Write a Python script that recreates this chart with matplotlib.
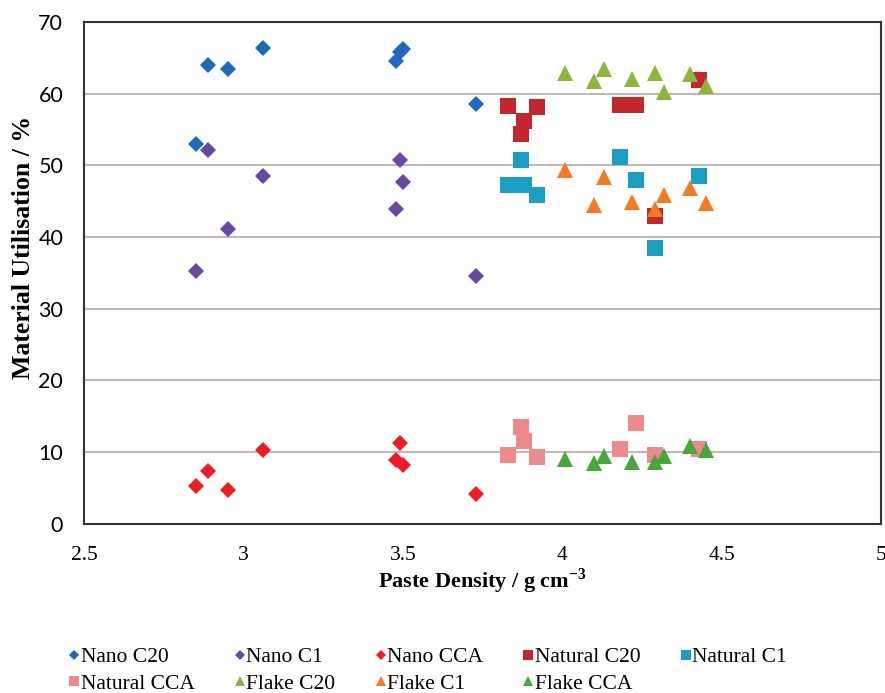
import matplotlib
matplotlib.use("Agg")
import matplotlib.pyplot as plt

# data
nanoC20_x = [2.85, 2.89, 2.95, 3.06, 3.48, 3.49, 3.50, 3.73]
nanoC20_y = [53.0, 64.0, 63.4, 66.4, 64.5, 65.8, 66.2, 58.6]

nanoC1_x = [2.85, 2.89, 2.95, 3.06, 3.48, 3.49, 3.50, 3.73]
nanoC1_y = [35.2, 52.2, 41.1, 48.5, 43.9, 50.7, 47.6, 34.5]

nanoCCA_x = [2.85, 2.89, 2.95, 3.06, 3.48, 3.49, 3.50, 3.73]
nanoCCA_y = [5.3, 7.4, 4.7, 10.3, 8.9, 11.3, 8.2, 4.2]

densNatural = [3.83, 3.87, 3.88, 3.92, 4.18, 4.23, 4.29, 4.43]
naturalC20_y = [58.2, 54.3, 56.2, 58.1, 58.4, 58.4, 42.9, 61.9]
naturalC1_y = [47.3, 50.7, 47.2, 45.9, 51.2, 48.0, 38.4, 48.5]
naturalCCA_y = [9.6, 13.5, 11.5, 9.3, 10.5, 14.1, 9.6, 10.4]

densFlake = [4.01, 4.10, 4.13, 4.22, 4.29, 4.32, 4.40, 4.45]
flakeC20_y = [62.9, 61.8, 63.4, 62.0, 62.8, 60.2, 62.7, 61.0]
flakeC1_y = [49.3, 44.4, 48.4, 44.9, 43.9, 45.9, 46.9, 44.8]
flakeCCA_y = [9.0, 8.5, 9.5, 8.6, 8.6, 9.4, 10.9, 10.3]

yTicks = [0, 10, 20, 30, 40, 50, 60, 70]
xTicks = [2.5, 3, 3.5, 4, 4.5, 5]
xTickLabels = ["2.5", "3", "3.5", "4", "4.5", "5"]


def main():
    fig = plt.figure(figsize=(8.85, 6.93), dpi=100)
    ax = fig.add_axes([0.095, 0.244, 0.9005, 0.7245])

    series = [
        ("Nano C20", nanoC20_x, nanoC20_y, "D", "#1f68bd", 8.6),
        ("Nano C1", nanoC1_x, nanoC1_y, "D", "#6a47a5", 8.6),
        ("Nano CCA", nanoCCA_x, nanoCCA_y, "D", "#ee1c24", 8.6),
        ("Natural C20", densNatural, naturalC20_y, "s", "#c3262d", 11),
        ("Natural C1", densNatural, naturalC1_y, "s", "#1c9dc4", 11),
        ("Natural CCA", densNatural, naturalCCA_y, "s", "#ec8a8c", 11),
        ("Flake C20", densFlake, flakeC20_y, "^", "#8db63c", 11.5),
        ("Flake C1", densFlake, flakeC1_y, "^", "#f57a24", 11.5),
        ("Flake CCA", densFlake, flakeCCA_y, "^", "#46a83a", 11.5),
    ]

    handles = {}
    for name, xs, ys, mk, col, ms in series:
        line, = ax.plot(xs, ys, linestyle="None", marker=mk, color=col,
                        markersize=ms, markeredgewidth=0, label=name, zorder=3)
        handles[name] = line

    ax.set_xlim(2.5, 5)
    ax.set_ylim(0, 70)
    ax.set_yticks(yTicks)
    ax.set_xticks(xTicks)
    ax.set_xticklabels(xTickLabels, family="Liberation Serif", fontsize=15.5)
    ax.set_yticklabels([str(t) for t in yTicks], family="Lato", fontsize=15.5)
    ax.tick_params(length=0)
    ax.tick_params(axis="y", pad=15)
    ax.tick_params(axis="x", pad=16)

    ax.yaxis.grid(True, color="#b9aaa8", linewidth=1.2)
    ax.set_axisbelow(True)
    for sp in ax.spines.values():
        sp.set_color("#333333")
        sp.set_linewidth(1.5)

    ax.set_xlabel("Paste Density / g cm$^{\\mathregular{-3}}$", family="Liberation Serif",
                  fontweight="bold", fontsize=16, labelpad=1)
    ax.set_ylabel("Material Utilisation / %", family="Liberation Serif",
                  fontweight="bold", fontsize=18.5)
    ax.yaxis.set_label_coords(-0.062, 0.55)

    # legend laid out row by row like the original
    order = ["Nano C20", "Natural CCA", "Nano C1", "Flake C20", "Nano CCA",
             "Flake C1", "Natural C20", "Flake CCA", "Natural C1"]
    fig.legend([handles[n] for n in order], order, loc="lower left",
               bbox_to_anchor=(0.056, -0.029), ncol=5, frameon=False,
               prop={"family": "Liberation Serif", "size": 15.5},
               markerscale=0.6, handlelength=0.5, handletextpad=0.05,
               columnspacing=1.85, labelspacing=0.3)

    fig.savefig("out.png", dpi=100)


main()
